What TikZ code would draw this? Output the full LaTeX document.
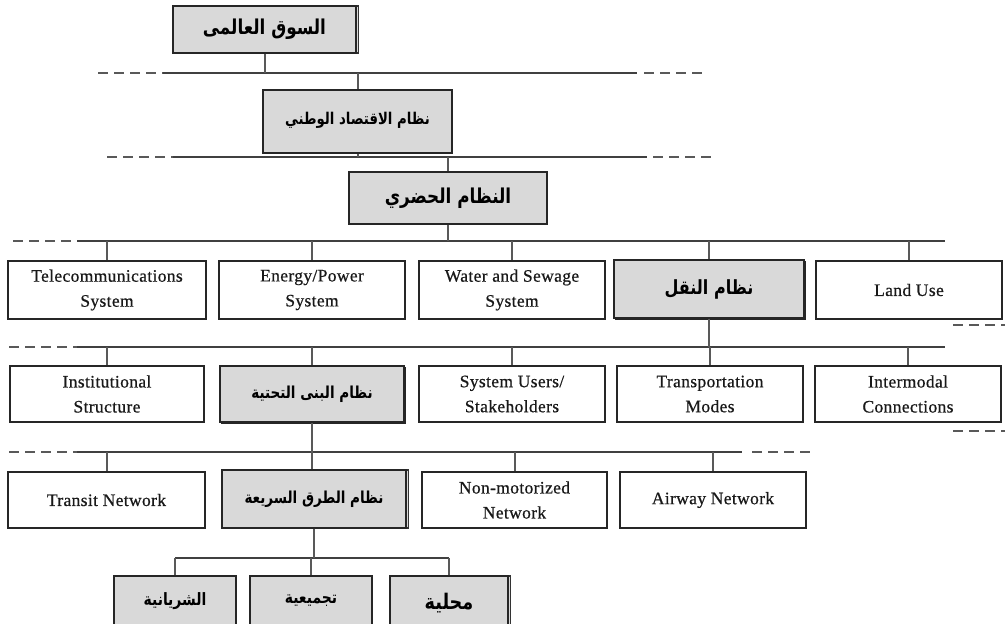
\documentclass[tikz,border=0pt]{standalone}
\usepackage{fontspec}
\setmainfont{Liberation Serif}[LetterSpace=2,FakeBold=0.6]
\newfontfamily\arabicfont[Script=Arabic]{DejaVu Sans}
\TeXXeTstate=1
\usetikzlibrary{shadows}
\newcommand\arb[2]{\scalebox{0.82}[1]{\fontsize{#1}{#1}\selectfont\arabicfont\bfseries #2}}
\begin{document}
\begin{tikzpicture}[x=1pt,y=-1pt,
  wbox/.style={draw=black!85, line width=1.1pt, fill=white, inner sep=0pt, align=center,
    font=\fontsize{17.5}{25}\selectfont, text=black!90},
  gbox/.style={wbox, fill=black!15, text=black},
  shr/.style={copy shadow={shadow xshift=2.5pt, shadow yshift=0pt, draw=black!80, fill=black!15}},
  shd/.style={copy shadow={shadow xshift=1.5pt, shadow yshift=-1.5pt, draw=black!85, fill=black!80}},
  conn/.style={draw=black!65, line width=2pt},
  hline/.style={draw=black!75, line width=1.5pt},
  dline/.style={draw=black!65, line width=1.5pt, dash pattern=on 10pt off 6pt}]
\useasboundingbox (0,0) rectangle (1005,624);

% level nodes
\node[gbox, shr, minimum width=183pt, minimum height=47pt] (top) at (264.5,29.5) {\arb{20.5}{\beginR السوق العالمى\endR}};
\node[gbox, minimum width=189pt, minimum height=63pt] (nat) at (357.5,121.5) {\raisebox{6pt}{\arb{16.2}{\beginR نظام الاقتصاد الوطني\endR}}};
\node[gbox, minimum width=198pt, minimum height=52pt] (urban) at (448,198) {\arb{20.5}{\beginR النظام الحضري\endR}};

% row 1
\node[wbox, minimum width=198pt, minimum height=58pt] (tel) at (107,290) {Telecommunications\\System};
\node[wbox, minimum width=186pt, minimum height=58pt] (ene) at (312,290) {Energy/Power\\System};
\node[wbox, minimum width=186pt, minimum height=58pt] (wat) at (512,290) {Water and Sewage\\System};
\node[gbox, shd, minimum width=190pt, minimum height=58pt] (tra) at (709,289) {\arb{19.5}{\beginR نظام النقل\endR}};
\node[wbox, minimum width=186pt, minimum height=58pt] (lan) at (909,290) {Land Use};

% row 2
\node[wbox, minimum width=194pt, minimum height=56pt] (ins) at (107,394) {Institutional\\Structure};
\node[gbox, shd, minimum width=184pt, minimum height=56pt] (inf) at (312,394) {\arb{16.5}{\beginR نظام البنى التحتية\endR}};
\node[wbox, minimum width=186pt, minimum height=56pt] (usr) at (512,394) {System Users/\\Stakeholders};
\node[wbox, minimum width=186pt, minimum height=56pt] (mod) at (710,394) {Transportation\\Modes};
\node[wbox, minimum width=186pt, minimum height=56pt] (itm) at (908,394) {Intermodal\\Connections};

% row 3
\node[wbox, minimum width=197pt, minimum height=56pt] (trn) at (106.5,500) {Transit Network};
\node[gbox, shr, minimum width=184pt, minimum height=58pt] (hwy) at (314,499) {\arb{16.5}{\beginR نظام الطرق السريعة\endR}};
\node[wbox, minimum width=185pt, minimum height=56pt] (non) at (514.5,500) {Non-motorized\\Network};
\node[wbox, minimum width=186pt, minimum height=56pt] (air) at (713,500) {Airway Network};

% row 4
\node[gbox, minimum width=122pt, minimum height=60pt] (art) at (175,606) {};
\node[gbox, minimum width=122pt, minimum height=60pt] (col) at (311,606) {};
\node[gbox, shr, minimum width=118pt, minimum height=60pt] (loc) at (449,606) {};
\node (artt) at (175,601) {\arb{17}{\beginR الشريانية\endR}};
\node (colt) at (311,601) {\arb{17}{\beginR تجميعية\endR}};
\node (loct) at (449,603) {\arb{21.5}{\beginR محلية\endR}};

% horizontal lines
\coordinate (l1a) at (98,73);  \coordinate (l1b) at (163,73); \coordinate (l1c) at (637,73); \coordinate (l1d) at (644,73); \coordinate (l1e) at (703,73);
\coordinate (l2a) at (107,157); \coordinate (l2b) at (173,157); \coordinate (l2c) at (647,157); \coordinate (l2d) at (653,157); \coordinate (l2e) at (712,157);
\coordinate (l3a) at (13,241); \coordinate (l3b) at (77,241); \coordinate (l3c) at (945,241);
\coordinate (l4a) at (9,347); \coordinate (l4b) at (77,347); \coordinate (l4c) at (945,347);
\coordinate (l5a) at (9,452); \coordinate (l5b) at (77,452); \coordinate (l5c) at (742,452); \coordinate (l5d) at (752,452); \coordinate (l5e) at (812,452);
\coordinate (r1a) at (953,325); \coordinate (r1b) at (1005,325);
\coordinate (r2a) at (953,431); \coordinate (r2b) at (1005,431);
\coordinate (l6) at (0,558);

\draw[dline] (l1a) -- (l1b); \draw[hline] (l1b) -- (l1c); \draw[dline] (l1d) -- (l1e);
\draw[dline] (l2a) -- (l2b); \draw[hline] (l2b) -- (l2c); \draw[dline] (l2d) -- (l2e);
\draw[dline] (l3a) -- (l3b); \draw[hline] (l3b) -- (l3c);
\draw[dline] (l4a) -- (l4b); \draw[hline] (l4b) -- (l4c);
\draw[dline] (l5a) -- (l5b); \draw[hline] (l5b) -- (l5c); \draw[dline] (l5d) -- (l5e);
\draw[dline] (r1a) -- (r1b);
\draw[dline] (r2a) -- (r2b);
\draw[hline] (art.north |- l6) -- (loc.north |- l6);

% connectors
\draw[conn] (top.south) -- (top.south |- l1b);
\draw[conn] (nat.north |- l1b) -- (nat.north);
\draw[conn] (nat.south) -- (nat.south |- l2b);
\draw[conn] (urban.north |- l2b) -- (urban.north);
\draw[conn] (urban.south) -- (urban.south |- l3b);
\foreach \n in {tel,ene,wat,tra,lan} \draw[conn] (\n.north |- l3b) -- (\n.north);
\draw[conn] (tra.south) -- (tra.south |- l4b);
\foreach \n in {ins,inf,usr,mod,itm} \draw[conn] (\n.north |- l4b) -- (\n.north);
\draw[conn] (inf.south) -- (inf.south |- hwy.north);
\foreach \n in {trn,non,air} \draw[conn] (\n.north |- l5b) -- (\n.north);
\draw[conn] (hwy.south) -- (hwy.south |- l6);
\foreach \n in {art,col,loc} \draw[conn] (\n.north |- l6) -- (\n.north);
\end{tikzpicture}
\end{document}
